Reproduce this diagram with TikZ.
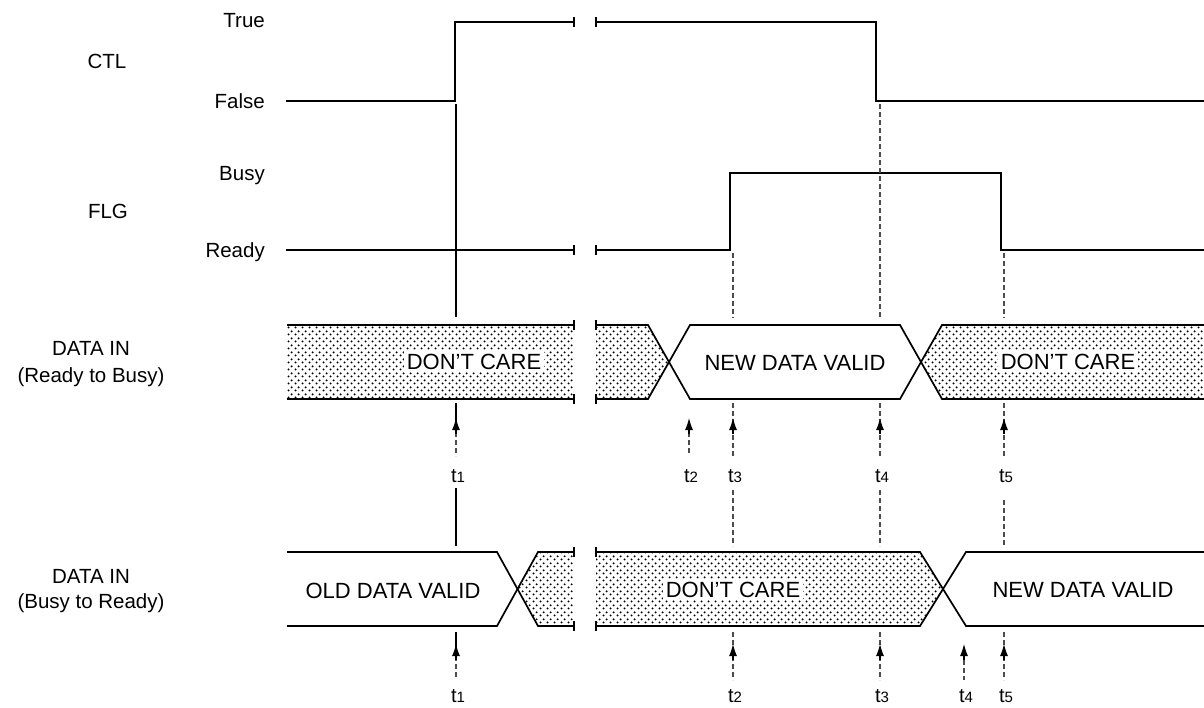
\documentclass[tikz,border=0pt]{standalone}
\usepackage{fontspec}
\setmainfont{Liberation Sans}
\usetikzlibrary{patterns.meta,arrows.meta}

% staggered dot screen for the "don't care" intervals
\tikzdeclarepattern{
  name=stipple,
  type=uncolored,
  bounding box={(0pt,0pt) and (7pt,7pt)},
  tile size={(7pt,7pt)},
  code={
    \fill (1.75pt,1.75pt) circle (1.2pt);
    \fill (5.25pt,5.25pt) circle (1.2pt);
  }
}

\newcommand{\tlab}[1]{t{\fontsize{15}{15}\selectfont #1}}

\begin{document}
\begin{tikzpicture}[x=1pt,y=-1pt,
  sig/.style={line width=1.8pt, line join=miter},
  bandline/.style={line width=1.7pt, line join=miter},
  stip/.style={pattern=stipple, pattern color=black},
  lbl/.style={font=\fontsize{20.5}{22}\selectfont, inner sep=0pt},
  bandtxt/.style={font=\fontsize{22}{24}\selectfont, fill=white, inner sep=3pt},
  plaintxt/.style={font=\fontsize{22}{24}\selectfont, inner sep=0pt},
  tnum/.style={font=\fontsize{20}{20}\selectfont, inner sep=0pt, anchor=base},
  brk/.style={line width=1.3pt},
  tsolid/.style={line width=1.1pt},
  tdash/.style={line width=1.1pt, dash pattern=on 5pt off 3pt, black!70},
  tarrow/.style={solid, black, line width=1.1pt, -{Latex[length=12pt,width=8pt]}},
]
\useasboundingbox (0,0) rectangle (1204,707);

% ---------------- signal names ----------------
\node[lbl, anchor=base] (ctl) at (107,68) {CTL};
\node[lbl, anchor=base east] (ltrue) at (265,27) {True};
\node[lbl, anchor=base east] (lfalse) at (265,108) {False};
\node[lbl, anchor=base] (flg) at (108,218) {FLG};
\node[lbl, anchor=base east] (lbusy) at (265,180) {Busy};
\node[lbl, anchor=base east] (lready) at (265,257) {Ready};
\node[lbl, anchor=base] (din1) at (91,355) {DATA IN};
\node[lbl, anchor=base] (din1b) at (91,382) {(Ready to Busy)};
\node[lbl, anchor=base] (din2) at (91,583) {DATA IN};
\node[lbl, anchor=base] (din2b) at (91,608) {(Busy to Ready)};

% ---------------- CTL ----------------
\draw[sig] (286,101) -- (455,101) -- (455,22) -- (574,22);
\draw[brk] (574,17) -- (574,27);
\draw[sig] (596,22) -- (876,22) -- (876,101) -- (1204,101);
\draw[brk] (596,17) -- (596,27);

% ---------------- FLG ----------------
\draw[sig] (286,250) -- (574,250);
\draw[brk] (574,245) -- (574,255);
\draw[sig] (596,250) -- (730,250) -- (730,173) -- (1001,173) -- (1001,250) -- (1204,250);
\draw[brk] (596,245) -- (596,255);

% ---------------- DATA IN (Ready to Busy) ----------------
\fill[stip] (287,325) rectangle (574,399);
\fill[stip] (596,325) -- (648,325) -- (669,362) -- (648,399) -- (596,399) -- cycle;
\fill[stip] (1204,325) -- (942,325) -- (921,362) -- (942,399) -- (1204,399) -- cycle;
\draw[bandline] (287,325) -- (574,325);
\draw[bandline] (287,399) -- (574,399);
\draw[brk] (574,320) -- (574,330) (574,394) -- (574,404);
\draw[brk] (596,320) -- (596,330) (596,394) -- (596,404);
\draw[bandline] (596,325) -- (648,325) -- (690,399) -- (900,399) -- (942,325) -- (1204,325);
\draw[bandline] (596,399) -- (648,399) -- (690,325) -- (900,325) -- (942,399) -- (1204,399);
\node[bandtxt, anchor=base] (dc1) at (474,369) {DON'T CARE};
\node[plaintxt, anchor=base] (nv1) at (795,370) {NEW DATA VALID};
\node[bandtxt, anchor=base] (dc2) at (1068,369) {DON'T CARE};

% ---------------- DATA IN (Busy to Ready) ----------------
\fill[stip] (518,589) -- (538,552) -- (574,552) -- (574,626) -- (538,626) -- cycle;
\fill[stip] (596,552) -- (920,552) -- (943,589) -- (920,626) -- (596,626) -- cycle;
\draw[bandline] (287,552) -- (497,552) -- (538,626) -- (574,626);
\draw[bandline] (287,626) -- (497,626) -- (538,552) -- (574,552);
\draw[brk] (574,547) -- (574,557) (574,621) -- (574,631);
\draw[brk] (596,547) -- (596,557) (596,621) -- (596,631);
\draw[bandline] (596,552) -- (920,552) -- (966,626) -- (1204,626);
\draw[bandline] (596,626) -- (920,626) -- (966,552) -- (1204,552);
\node[plaintxt, anchor=base] (ov) at (393,598) {OLD DATA VALID};
\node[bandtxt, anchor=base] (dc3) at (733,597) {DON'T CARE};
\node[plaintxt, anchor=base] (nv2) at (1083,597) {NEW DATA VALID};

% ---------------- timing marks, upper row ----------------
\draw[tsolid] (456,104) -- (456,317);
\draw[tsolid] (456,403) -- (456,432);
\draw[tdash] (456,432) -- (456,456);
\draw[tarrow] (456,434) -- (456,418);
\node[tnum] (a1) at (458,482) {\tlab{1}};

\draw[tdash] (689,432) -- (689,454);
\draw[tarrow] (689,434) -- (689,418);
\node[tnum] (a2) at (691,482) {\tlab{2}};

\draw[tdash] (733,253) -- (733,318);
\draw[tdash] (733,403) -- (733,456);
\draw[tarrow] (733,434) -- (733,418);
\node[tnum] (a3) at (735,482) {\tlab{3}};

\draw[tdash] (880,104) -- (880,318);
\draw[tdash] (880,403) -- (880,456);
\draw[tarrow] (880,434) -- (880,418);
\node[tnum] (a4) at (882,482) {\tlab{4}};

\draw[tdash] (1004,253) -- (1004,318);
\draw[tdash] (1004,403) -- (1004,456);
\draw[tarrow] (1004,434) -- (1004,418);
\node[tnum] (a5) at (1006,482) {\tlab{5}};

% ---------------- timing marks, lower row ----------------
\draw[tsolid] (456,488) -- (456,546);
\draw[tsolid] (456,632) -- (456,656);
\draw[tdash] (456,656) -- (456,678);
\draw[tarrow] (456,660) -- (456,644);
\node[tnum] (b1) at (458,702) {\tlab{1}};

\draw[tdash] (733,490) -- (733,546);
\draw[tdash] (733,632) -- (733,680);
\draw[tarrow] (733,660) -- (733,644);
\node[tnum] (b2) at (735,702) {\tlab{2}};

\draw[tdash] (880,490) -- (880,546);
\draw[tdash] (880,632) -- (880,680);
\draw[tarrow] (880,660) -- (880,644);
\node[tnum] (b3) at (882,702) {\tlab{3}};

\draw[tdash] (964,660) -- (964,680);
\draw[tarrow] (964,660) -- (964,644);
\node[tnum] (b4) at (966,702) {\tlab{4}};

\draw[tdash] (1004,500) -- (1004,546);
\draw[tdash] (1004,632) -- (1004,680);
\draw[tarrow] (1004,660) -- (1004,644);
\node[tnum] (b5) at (1006,702) {\tlab{5}};
\end{tikzpicture}
\end{document}
